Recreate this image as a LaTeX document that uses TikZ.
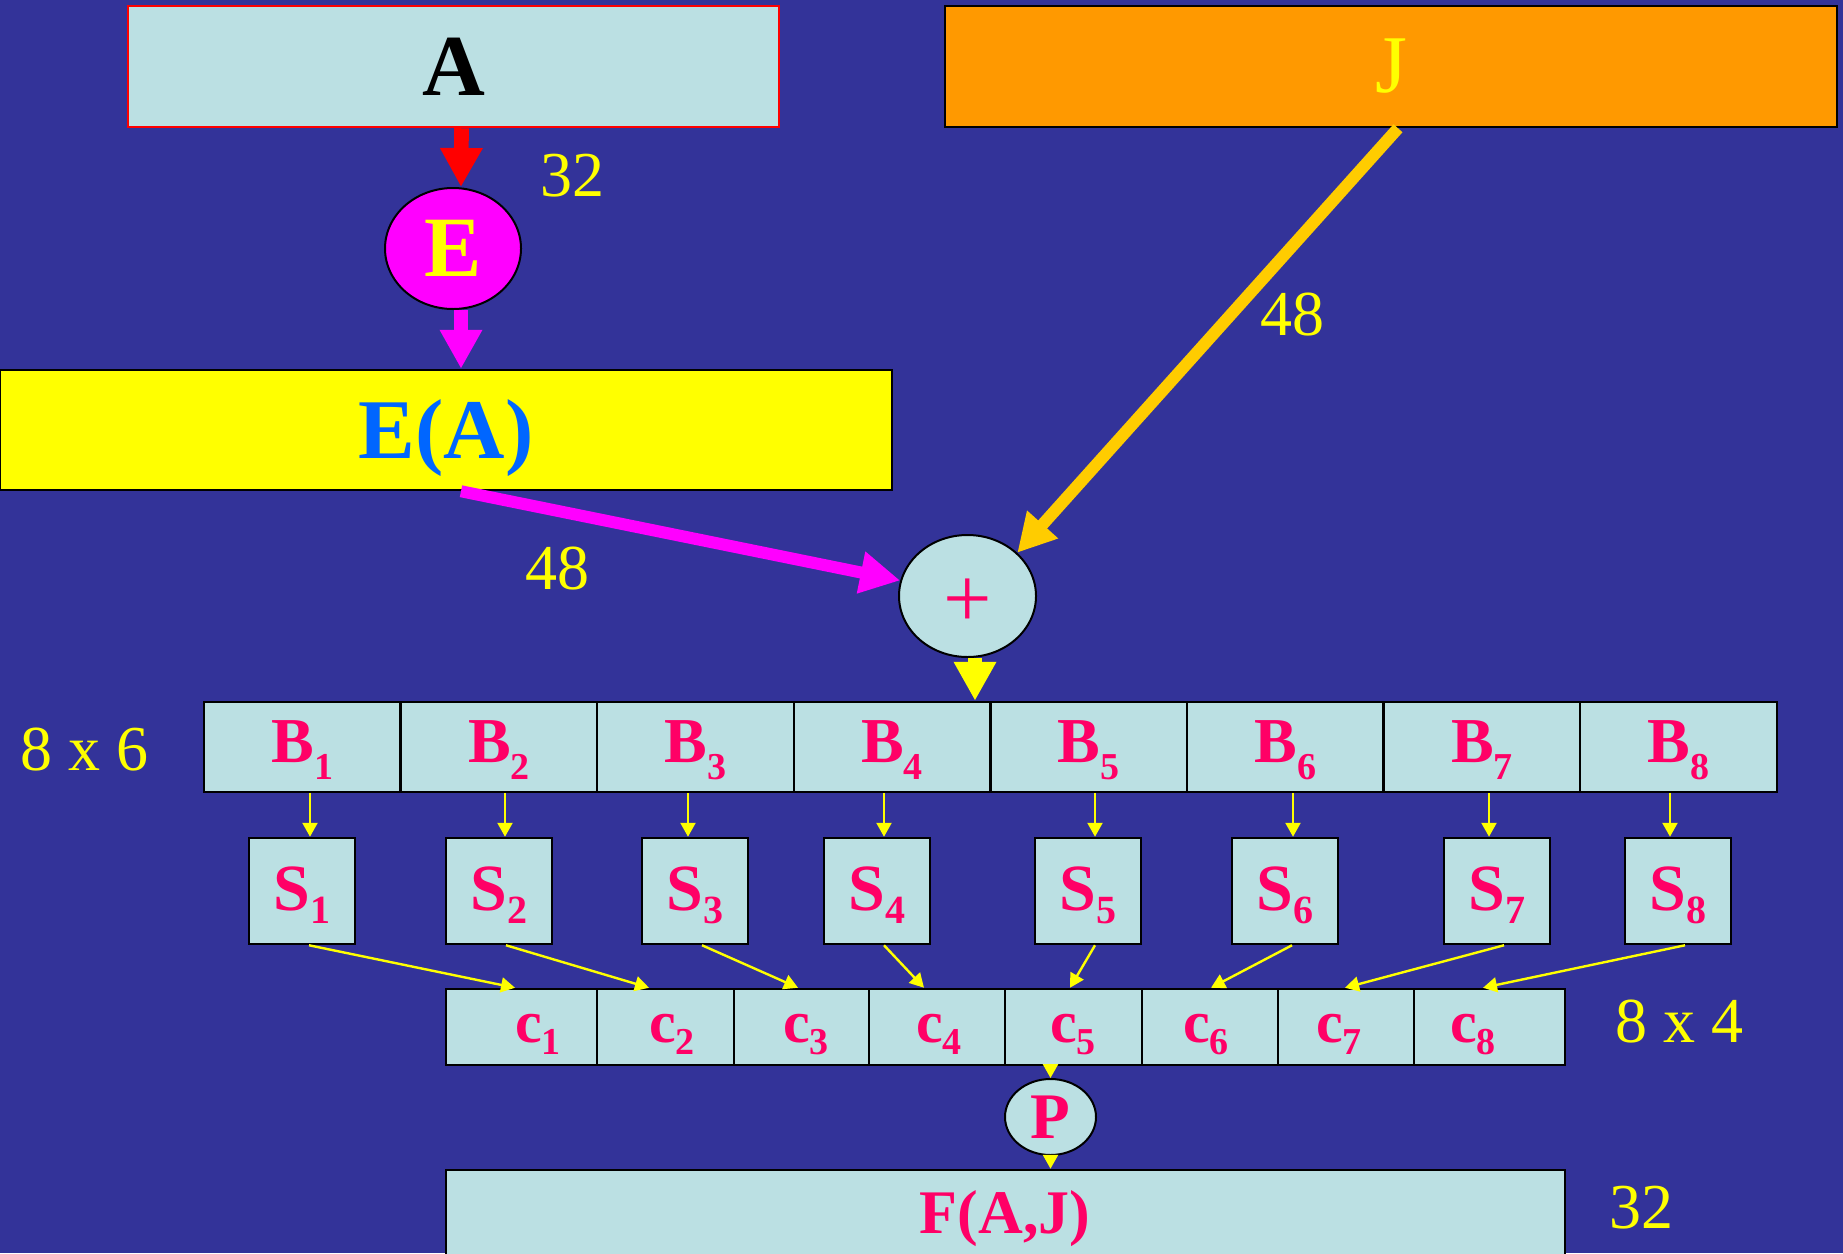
\documentclass[tikz,border=0pt]{standalone}
\usepackage{fontspec}
\setmainfont{Liberation Serif}
\usetikzlibrary{arrows.meta,shapes.geometric}
\definecolor{bg}{HTML}{333399}
\definecolor{lb}{HTML}{BBE0E3}
\definecolor{pk}{HTML}{FF0066}
\definecolor{mg}{HTML}{FF00FF}
\definecolor{yl}{HTML}{FFFF00}
\definecolor{og}{HTML}{FF9900}
\definecolor{gd}{HTML}{FFCC00}
\definecolor{bl}{HTML}{0066FF}
\definecolor{rd}{HTML}{FF0000}
\newcommand\subB[1]{\raisebox{-17pt}{\fontsize{38}{40}\selectfont #1}}
\newcommand\subS[1]{\raisebox{-13pt}{\fontsize{40}{42}\selectfont #1}}
\newcommand\subC[1]{\raisebox{-12pt}{\fontsize{38}{40}\selectfont #1}}
\tikzset{
  box/.style={draw=black, line width=2.5pt, fill=lb, inner sep=0pt, rectangle},
  bcell/.style={box, minimum width=196.6pt, minimum height=90pt, text=pk,
    font=\bfseries\fontsize{64}{70}\selectfont, text height=43pt, text depth=12pt},
  sbox/.style={box, minimum width=106pt, minimum height=106pt, text=pk,
    font=\bfseries\fontsize{66}{70}\selectfont, text height=44pt, text depth=5pt},
  ccell/.style={box, minimum height=76pt},
  ctext/.style={text=pk, anchor=base, inner sep=0pt, font=\bfseries\fontsize{60}{66}\selectfont},
  numlbl/.style={text=yl, inner sep=0pt, font=\fontsize{64}{70}\selectfont},
  oval/.style={ellipse, draw=black, line width=2pt, inner sep=0pt},
  thinarr/.style={draw=yl, line width=2.4pt, -{Triangle[length=14pt,width=15pt]}},
  fatarr/.style={line width=14pt, -{Triangle[length=39pt,width=40pt]}},
}
\begin{document}
\begin{tikzpicture}[x=1pt,y=-1pt]
\useasboundingbox (0,0) rectangle (1843,1253);
\clip (0,0) rectangle (1843,1253);
\fill[bg] (0,0) rectangle (1843,1253);

% top boxes
\node[box, draw=rd, minimum width=651pt, minimum height=121pt,
  font=\bfseries\fontsize{87}{95}\selectfont] (A) at (453.5,66.5) {A};
\node[box, fill=og, minimum width=892pt, minimum height=121pt, text=yl,
  font=\fontsize{82}{90}\selectfont] (J) at (1391,66.5) {J};
\node[oval, fill=mg, minimum width=136pt, minimum height=121pt, text=yl,
  font=\bfseries\fontsize{86}{95}\selectfont] (E) at (453,248.5) {E};
\node[box, fill=yl, minimum width=892pt, minimum height=120pt, text=bl,
  font=\bfseries\fontsize{85}{95}\selectfont, text height=56pt, text depth=0pt] (EA) at (446,430) {E(A)};
\node[oval, fill=lb, minimum width=137pt, minimum height=122pt, text=pk,
  font=\fontsize{86}{95}\selectfont, text height=63pt, text depth=0pt] (plus) at (967.5,596) {+};

% labels
\node[numlbl] (n32a) at (572,176) {32};
\node[numlbl] (n48a) at (557,569) {48};
\node[numlbl] (n48b) at (1292,315) {48};
\node[numlbl] (n86) at (84,750) {8 x 6};
\node[numlbl] (n84) at (1679,1022) {8 x 4};
\node[numlbl] (n32b) at (1641,1208) {32};

% thick arrows
\draw[fatarr, rd, line width=14.7pt] ([xshift=8pt]A.south) -- ([xshift=8pt]E.north);
\draw[fatarr, mg, line width=14.7pt] ([xshift=8pt]E.south) -- ([xshift=8pt]E.south |- EA.north);
\draw[mg, line width=12pt, -{Triangle[length=40pt,width=40pt]}] ([xshift=15pt]EA.south) -- (plus.167);
\draw[gd, line width=12pt, -{Triangle[length=38pt,width=39pt]}] ([xshift=7pt]J.south) -- (plus.41);

% B row
\foreach \i in {1,...,8}
  \node[bcell] (B\i) at ({204+196.6*(\i-0.5)},747) {B\subB{\i}};

\draw[fatarr, yl] ([xshift=7.5pt]plus.south) -- ([xshift=7.5pt]plus.south |- B5.north);

% S boxes
\foreach \i/\x in {1/302,2/499,3/695,4/877,5/1088,6/1285,7/1497,8/1678}
  \node[sbox] (S\i) at (\x,891) {S\subS{\i}};

\foreach \i/\d in {1/8,2/6,3/-7,4/7,5/7,6/8,7/-8,8/-8}
  \draw[thinarr] ([xshift=\d pt]S\i.north |- B\i.south) -- ([xshift=\d pt]S\i.north);

% c row
\foreach \i/\l/\r in {1/446/597,2/597/734,3/734/869,4/869/1005,5/1005/1142,6/1142/1278,7/1278/1414,8/1414/1565}
  \node[ccell, minimum width={(\r-\l)*1pt}] (cc\i) at ({(\l+\r)/2},1027) {};
\foreach \i/\x in {1/538,2/672,3/806,4/939,5/1073,6/1206,7/1339,8/1473}
  \node[ctext] (ct\i) at (\x,1042) {c\subC{\i}};

\foreach \i/\e in {1/-6.5,2/-16.5,3/-3.5,4/-13,5/-3.5,6/1,7/-1,8/-6.5}
  \draw[thinarr] ([xshift=7pt]S\i.south) -- ([xshift=\e pt]cc\i.north);

% P and F
\node[oval, fill=lb, minimum width=91pt, minimum height=76pt, text=pk,
  font=\bfseries\fontsize{65}{70}\selectfont] (P) at (1050.5,1117) {P};
\node[box, minimum width=1119pt, minimum height=130pt] (F) at (1005.5,1235) {};
\node[text=pk, anchor=base, inner sep=0pt, font=\bfseries\fontsize{62}{70}\selectfont] (Ft) at (1005,1233) {F(A,J)};

\draw[thinarr] (P.north |- cc5.south) -- (P.north);
\draw[thinarr] (P.south) -- (P.south |- F.north);
\end{tikzpicture}
\end{document}
